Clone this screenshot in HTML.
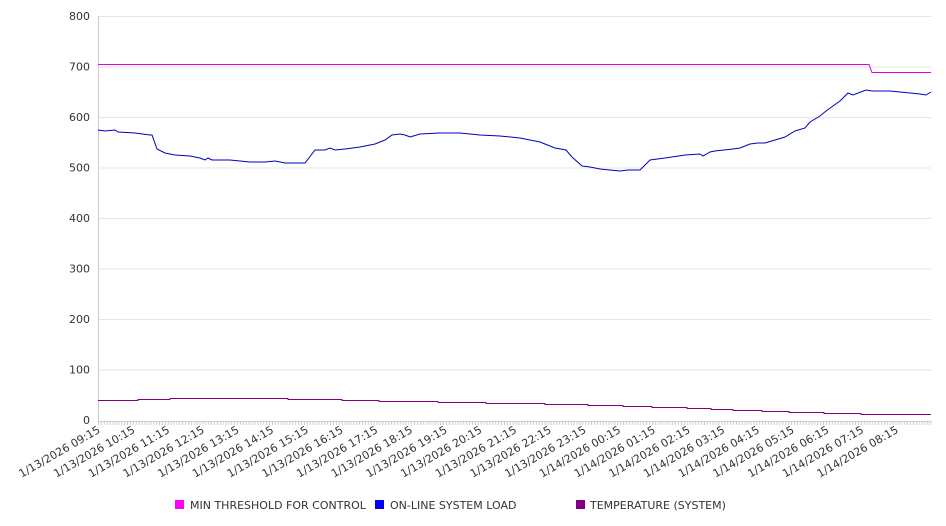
<!DOCTYPE html>
<html><head><style>body{margin:0;background:#fff}svg{display:block;font-family:"DejaVu Sans","Liberation Sans",sans-serif}</style></head>
<body>
<svg width="946" height="526" viewBox="0 0 946 526" xmlns="http://www.w3.org/2000/svg">
<g stroke="#e6e6e6" stroke-width="1">
<line x1="98" x2="931" y1="16.5" y2="16.5"/><line x1="98" x2="931" y1="67" y2="67"/><line x1="98" x2="931" y1="117.5" y2="117.5"/><line x1="98" x2="931" y1="168" y2="168"/><line x1="98" x2="931" y1="218.5" y2="218.5"/><line x1="98" x2="931" y1="269" y2="269"/><line x1="98" x2="931" y1="319.5" y2="319.5"/><line x1="98" x2="931" y1="370" y2="370"/>
</g>
<line x1="98.5" x2="98.5" y1="16" y2="421" stroke="#ccc"/>
<line x1="98" x2="931" y1="421.5" y2="421.5" stroke="#ccc"/>
<g id="mt"></g>
<g font-size="11" fill="#333" text-anchor="end">
<text x="90" y="20">800</text><text x="90" y="70.5">700</text><text x="90" y="121">600</text><text x="90" y="171.5">500</text><text x="90" y="222">400</text><text x="90" y="272.5">300</text><text x="90" y="323">200</text><text x="90" y="373.5">100</text><text x="90" y="424">0</text>
</g>
<g font-size="11" fill="#333" text-anchor="end" id="xl"></g>
<polyline fill="none" stroke="#e000e0" stroke-width="1" transform="translate(0,0.5)" points="98,64 869,64 872,72 931,72"/>
<polyline fill="none" stroke="#0000c0" stroke-width="1" points="98,130 105,131 115,130 118,132 135,133 150,135 152,135 157,149 165,153 175,155 190,156 200,158 205,160 208,158 212,160 230,160 250,162 265,162 275,161 285,163 305,163 315,150 325,150 330,148 335,150 345,149 360,147 375,144 385,140 392,135 400,134 405,135 410,137 420,134 440,133 460,133 480,135 500,136 520,138 540,142 555,148 566,150 572,157 582,166 590,167 600,169 610,170 620,171 628,170 640,170 643,167 650,160 665,158 685,155 700,154 703,156 710,152 715,151 733,149 740,148 745,146 750,144 758,143 765,143 775,140 785,137 795,131 805,128 810,122 820,116 826,111 840,101 848,93 853,95 866,90 872,91 880,91 890,91 900,92 910,93 920,94 926,95 931,92"/>
<polyline fill="none" stroke="#800080" stroke-width="1" transform="translate(0,0.5)" points="98,400 138,400 138,399 170,399 170,398 288,398 288,399 342,399 342,400 379,400 379,401 438,401 438,402 486,402 486,403 545,403 545,404 588,404 588,405 623,405 623,406 652,406 652,407 687,407 687,408 711,408 711,409 733,409 733,410 762,410 762,411 789,411 789,412 824,412 824,413 861,413 861,414 931,414"/>
<g font-size="11" fill="#333">
<rect x="175" y="500" width="9" height="9" fill="#ff00ff"/><text x="190" y="509">MIN THRESHOLD FOR CONTROL</text>
<rect x="375" y="500" width="9" height="9" fill="#0000ff"/><text x="390" y="509">ON-LINE SYSTEM LOAD</text>
<rect x="576" y="500" width="9" height="9" fill="#800080"/><text x="590" y="509">TEMPERATURE (SYSTEM)</text>
</g>
<script>
var ns="http://www.w3.org/2000/svg",g=document.getElementById('xl'),m=document.getElementById('mt');
var hrs=["09","10","11","12","13","14","15","16","17","18","19","20","21","22","23","00","01","02","03","04","05","06","07","08"];
for(var i=0;i<24;i++){var x=98+i*34.7,t=document.createElementNS(ns,'text');t.setAttribute('transform','translate('+(x+3)+',432) rotate(-30)');t.textContent=(i<15?'1/13/2026 ':'1/14/2026 ')+hrs[i]+':15';g.appendChild(t);}
for(var x=98.5;x<931;x+=2.9){var l=document.createElementNS(ns,'line');l.setAttribute('x1',x);l.setAttribute('x2',x);l.setAttribute('y1',421);l.setAttribute('y2',425);l.setAttribute('stroke','#ccc');m.appendChild(l);}
</script>
</svg>
</body></html>
